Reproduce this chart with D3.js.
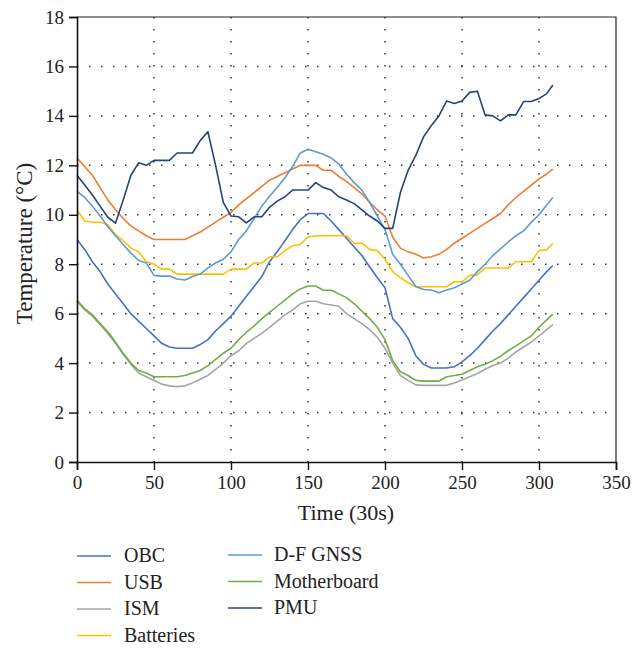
<!DOCTYPE html>
<html>
<head>
<meta charset="utf-8">
<script src="https://cdn.jsdelivr.net/npm/d3@7"></script>
<style>
  body { margin: 0; background: #fff; }
  svg text { font-family: "Liberation Serif", "DejaVu Serif", serif; fill: #222; }
</style>
</head>
<body>
<svg id="chart" width="642" height="648"></svg>
<script>
// time samples (30s steps), read every 5 steps off the figure
const time = [0,5,10,15,20,25,30,35,40,45,50,55,60,65,70,75,80,85,90,95,100,105,110,115,120,125,130,135,140,145,150,155,160,165,170,175,180,185,190,195,200,205,210,215,220,225,230,235,240,245,250,255,260,265,270,275,280,285,290,295,300,305,309];

const obc = [9.0,8.6,8.1,7.7,7.2,6.8,6.4,6.0,5.7,5.4,5.1,4.8,4.65,4.6,4.6,4.6,4.75,4.95,5.3,5.6,5.9,6.3,6.7,7.1,7.5,8.1,8.5,8.95,9.4,9.8,10.05,10.05,10.05,9.75,9.4,9.05,8.7,8.35,7.9,7.45,7.05,5.8,5.45,5.0,4.3,3.95,3.8,3.8,3.8,3.85,4.05,4.3,4.6,4.95,5.3,5.6,5.95,6.3,6.65,7.0,7.35,7.7,7.95];
const usb = [12.3,11.95,11.6,11.1,10.6,10.2,9.85,9.55,9.35,9.15,9.0,9.0,9.0,9.0,9.0,9.15,9.3,9.5,9.7,9.9,10.1,10.4,10.65,10.9,11.15,11.4,11.55,11.7,11.85,12.0,12.0,12.0,11.8,11.8,11.55,11.35,11.1,10.85,10.5,10.2,9.95,9.1,8.65,8.5,8.4,8.25,8.3,8.4,8.6,8.85,9.05,9.25,9.45,9.65,9.85,10.05,10.4,10.7,10.95,11.2,11.45,11.65,11.85];
const ism = [6.5,6.15,5.9,5.55,5.2,4.8,4.35,3.95,3.6,3.45,3.3,3.15,3.08,3.05,3.08,3.2,3.35,3.5,3.75,4.0,4.3,4.5,4.8,5.0,5.2,5.45,5.7,5.95,6.15,6.4,6.5,6.5,6.4,6.35,6.3,6.0,5.8,5.6,5.35,5.05,4.6,4.0,3.5,3.3,3.12,3.1,3.1,3.1,3.1,3.2,3.32,3.45,3.58,3.75,3.9,4.0,4.2,4.45,4.65,4.85,5.1,5.35,5.56];
const batteries = [10.2,9.75,9.7,9.7,9.6,9.2,8.95,8.65,8.5,8.1,8.0,7.8,7.8,7.6,7.6,7.6,7.6,7.6,7.6,7.6,7.8,7.8,7.8,8.05,8.05,8.3,8.3,8.55,8.75,8.8,9.1,9.15,9.15,9.15,9.15,9.15,8.85,8.85,8.6,8.55,8.2,7.7,7.45,7.25,7.09,7.09,7.09,7.09,7.09,7.29,7.29,7.55,7.57,7.85,7.85,7.85,7.85,8.1,8.1,8.1,8.55,8.58,8.85];
const dfGnss = [10.95,10.7,10.35,9.95,9.52,9.15,8.8,8.45,8.15,8.05,7.55,7.52,7.52,7.4,7.36,7.5,7.6,7.85,8.05,8.2,8.5,9.0,9.35,9.85,10.35,10.75,11.1,11.5,11.95,12.5,12.65,12.55,12.45,12.3,12.05,11.65,11.3,11.0,10.5,9.95,9.4,8.4,8.0,7.55,7.1,6.98,6.96,6.85,6.96,7.05,7.2,7.35,7.7,8.0,8.35,8.62,8.9,9.15,9.35,9.7,10.0,10.4,10.7];
const motherboard = [6.55,6.2,5.95,5.6,5.27,4.85,4.4,4.0,3.7,3.6,3.45,3.45,3.45,3.45,3.5,3.6,3.7,3.9,4.15,4.4,4.6,4.95,5.25,5.5,5.8,6.05,6.3,6.55,6.8,7.0,7.12,7.12,6.95,6.95,6.8,6.65,6.4,6.1,5.8,5.45,4.95,4.1,3.65,3.5,3.3,3.27,3.27,3.27,3.45,3.5,3.55,3.7,3.85,3.95,4.1,4.28,4.5,4.7,4.9,5.1,5.45,5.75,5.98];
const pmu = [11.6,11.2,10.8,10.35,9.9,9.66,10.6,11.6,12.1,12.0,12.2,12.2,12.2,12.5,12.5,12.5,13.0,13.36,12.0,10.5,9.95,9.92,9.67,9.92,9.92,10.3,10.55,10.73,11.0,11.0,11.0,11.3,11.1,11.0,10.73,10.6,10.45,10.2,9.95,9.75,9.45,9.45,10.9,11.8,12.4,13.15,13.6,14.0,14.6,14.5,14.6,14.95,15.0,14.04,14.0,13.8,14.04,14.04,14.58,14.58,14.7,14.9,15.25];

const seriesNames = ["OBC", "USB", "ISM", "Batteries", "D-F GNSS", "Motherboard", "PMU"];
const seriesValues = [obc, usb, ism, batteries, dfGnss, motherboard, pmu];
const seriesColors = ["#4472C4", "#ED7D31", "#A5A5A5", "#FFC000", "#5B9BD5", "#70AD47", "#264478"];

const xTicks = [0, 50, 100, 150, 200, 250, 300, 350];
const yTicks = [0, 2, 4, 6, 8, 10, 12, 14, 16, 18];

const svg = d3.select("#chart");
const marginLeft = 77;
const marginTop = 17;
const plotRight = 616;
const plotBottom = 462;

const xScale = d3.scaleLinear().domain([0, 350]).range([marginLeft, plotRight]);
const yScale = d3.scaleLinear().domain([0, 18]).range([plotBottom, marginTop]);

// dotted gridlines
svg.append("g")
  .selectAll("line")
  .data(yTicks.filter((d) => d > 0 && d < 18))
  .join("line")
  .attr("x1", marginLeft)
  .attr("x2", plotRight)
  .attr("y1", (d) => yScale(d))
  .attr("y2", (d) => yScale(d))
  .attr("stroke", "#333")
  .attr("stroke-width", 1.5)
  .attr("stroke-dasharray", "1.5,10.5");

svg.append("g")
  .selectAll("line")
  .data(xTicks.filter((d) => d > 0 && d < 350))
  .join("line")
  .attr("x1", (d) => xScale(d))
  .attr("x2", (d) => xScale(d))
  .attr("y1", marginTop)
  .attr("y2", plotBottom)
  .attr("stroke", "#333")
  .attr("stroke-width", 1.5)
  .attr("stroke-dasharray", "1.5,10.5");

// frame (top + right)
svg.append("path")
  .attr("d", `M${marginLeft},${marginTop}H${plotRight}V${plotBottom}`)
  .attr("fill", "none")
  .attr("stroke", "#222")
  .attr("stroke-width", 1.2);

// series lines
const line = d3.line()
  .x((d, i) => xScale(time[i]))
  .y((d) => yScale(d));

svg.append("g")
  .selectAll("path")
  .data(seriesValues)
  .join("path")
  .attr("fill", "none")
  .attr("stroke", (d, i) => seriesColors[i])
  .attr("stroke-width", 1.6)
  .attr("stroke-linejoin", "round")
  .attr("d", line);

// axes
svg.append("g")
  .attr("transform", `translate(0, ${plotBottom})`)
  .call(d3.axisBottom(xScale).tickValues(xTicks).tickSize(8).tickPadding(6));
svg.append("g")
  .attr("transform", `translate(${marginLeft}, 0)`)
  .call(d3.axisLeft(yScale).tickValues(yTicks).tickSize(8).tickPadding(5));

svg.selectAll(".domain").attr("stroke", "#111").attr("stroke-width", 1.6);
svg.selectAll(".tick line").attr("stroke", "#111").attr("stroke-width", 1.4);
svg.selectAll(".tick text")
  .style("font-family", "Liberation Serif, DejaVu Serif, serif")
  .style("font-size", "19px")
  .attr("fill", "#222");

// axis titles
svg.append("text")
  .attr("x", 346)
  .attr("y", 520)
  .attr("text-anchor", "middle")
  .style("font-size", "22px")
  .text("Time (30s)");

svg.append("text")
  .attr("transform", `translate(32, ${(marginTop + plotBottom) / 2 + 4}) rotate(-90)`)
  .attr("text-anchor", "middle")
  .style("font-size", "23px")
  .text("Temperature (°C)");

// legend: two columns
const legendCols = [
  { x: 77, names: [0, 1, 2, 3], y0: 556 },
  { x: 228, names: [4, 5, 6], y0: 555 }
];
const legendStep = 26.5;

legendCols.forEach((col, c) => {
  const g = svg.append("g");
  const items = g.selectAll("g")
    .data(col.names)
    .join("g")
    .attr("transform", (d, i) => `translate(${col.x}, ${col.y0 + i * legendStep})`);
  items.append("line")
    .attr("x1", 0)
    .attr("x2", 34)
    .attr("stroke", (d) => seriesColors[d])
    .attr("stroke-width", 1.6);
  items.append("text")
    .attr("x", c === 0 ? 47 : 46)
    .attr("dy", "0.32em")
    .style("font-size", "20px")
    .text((d) => seriesNames[d]);
});
</script>
</body>
</html>
